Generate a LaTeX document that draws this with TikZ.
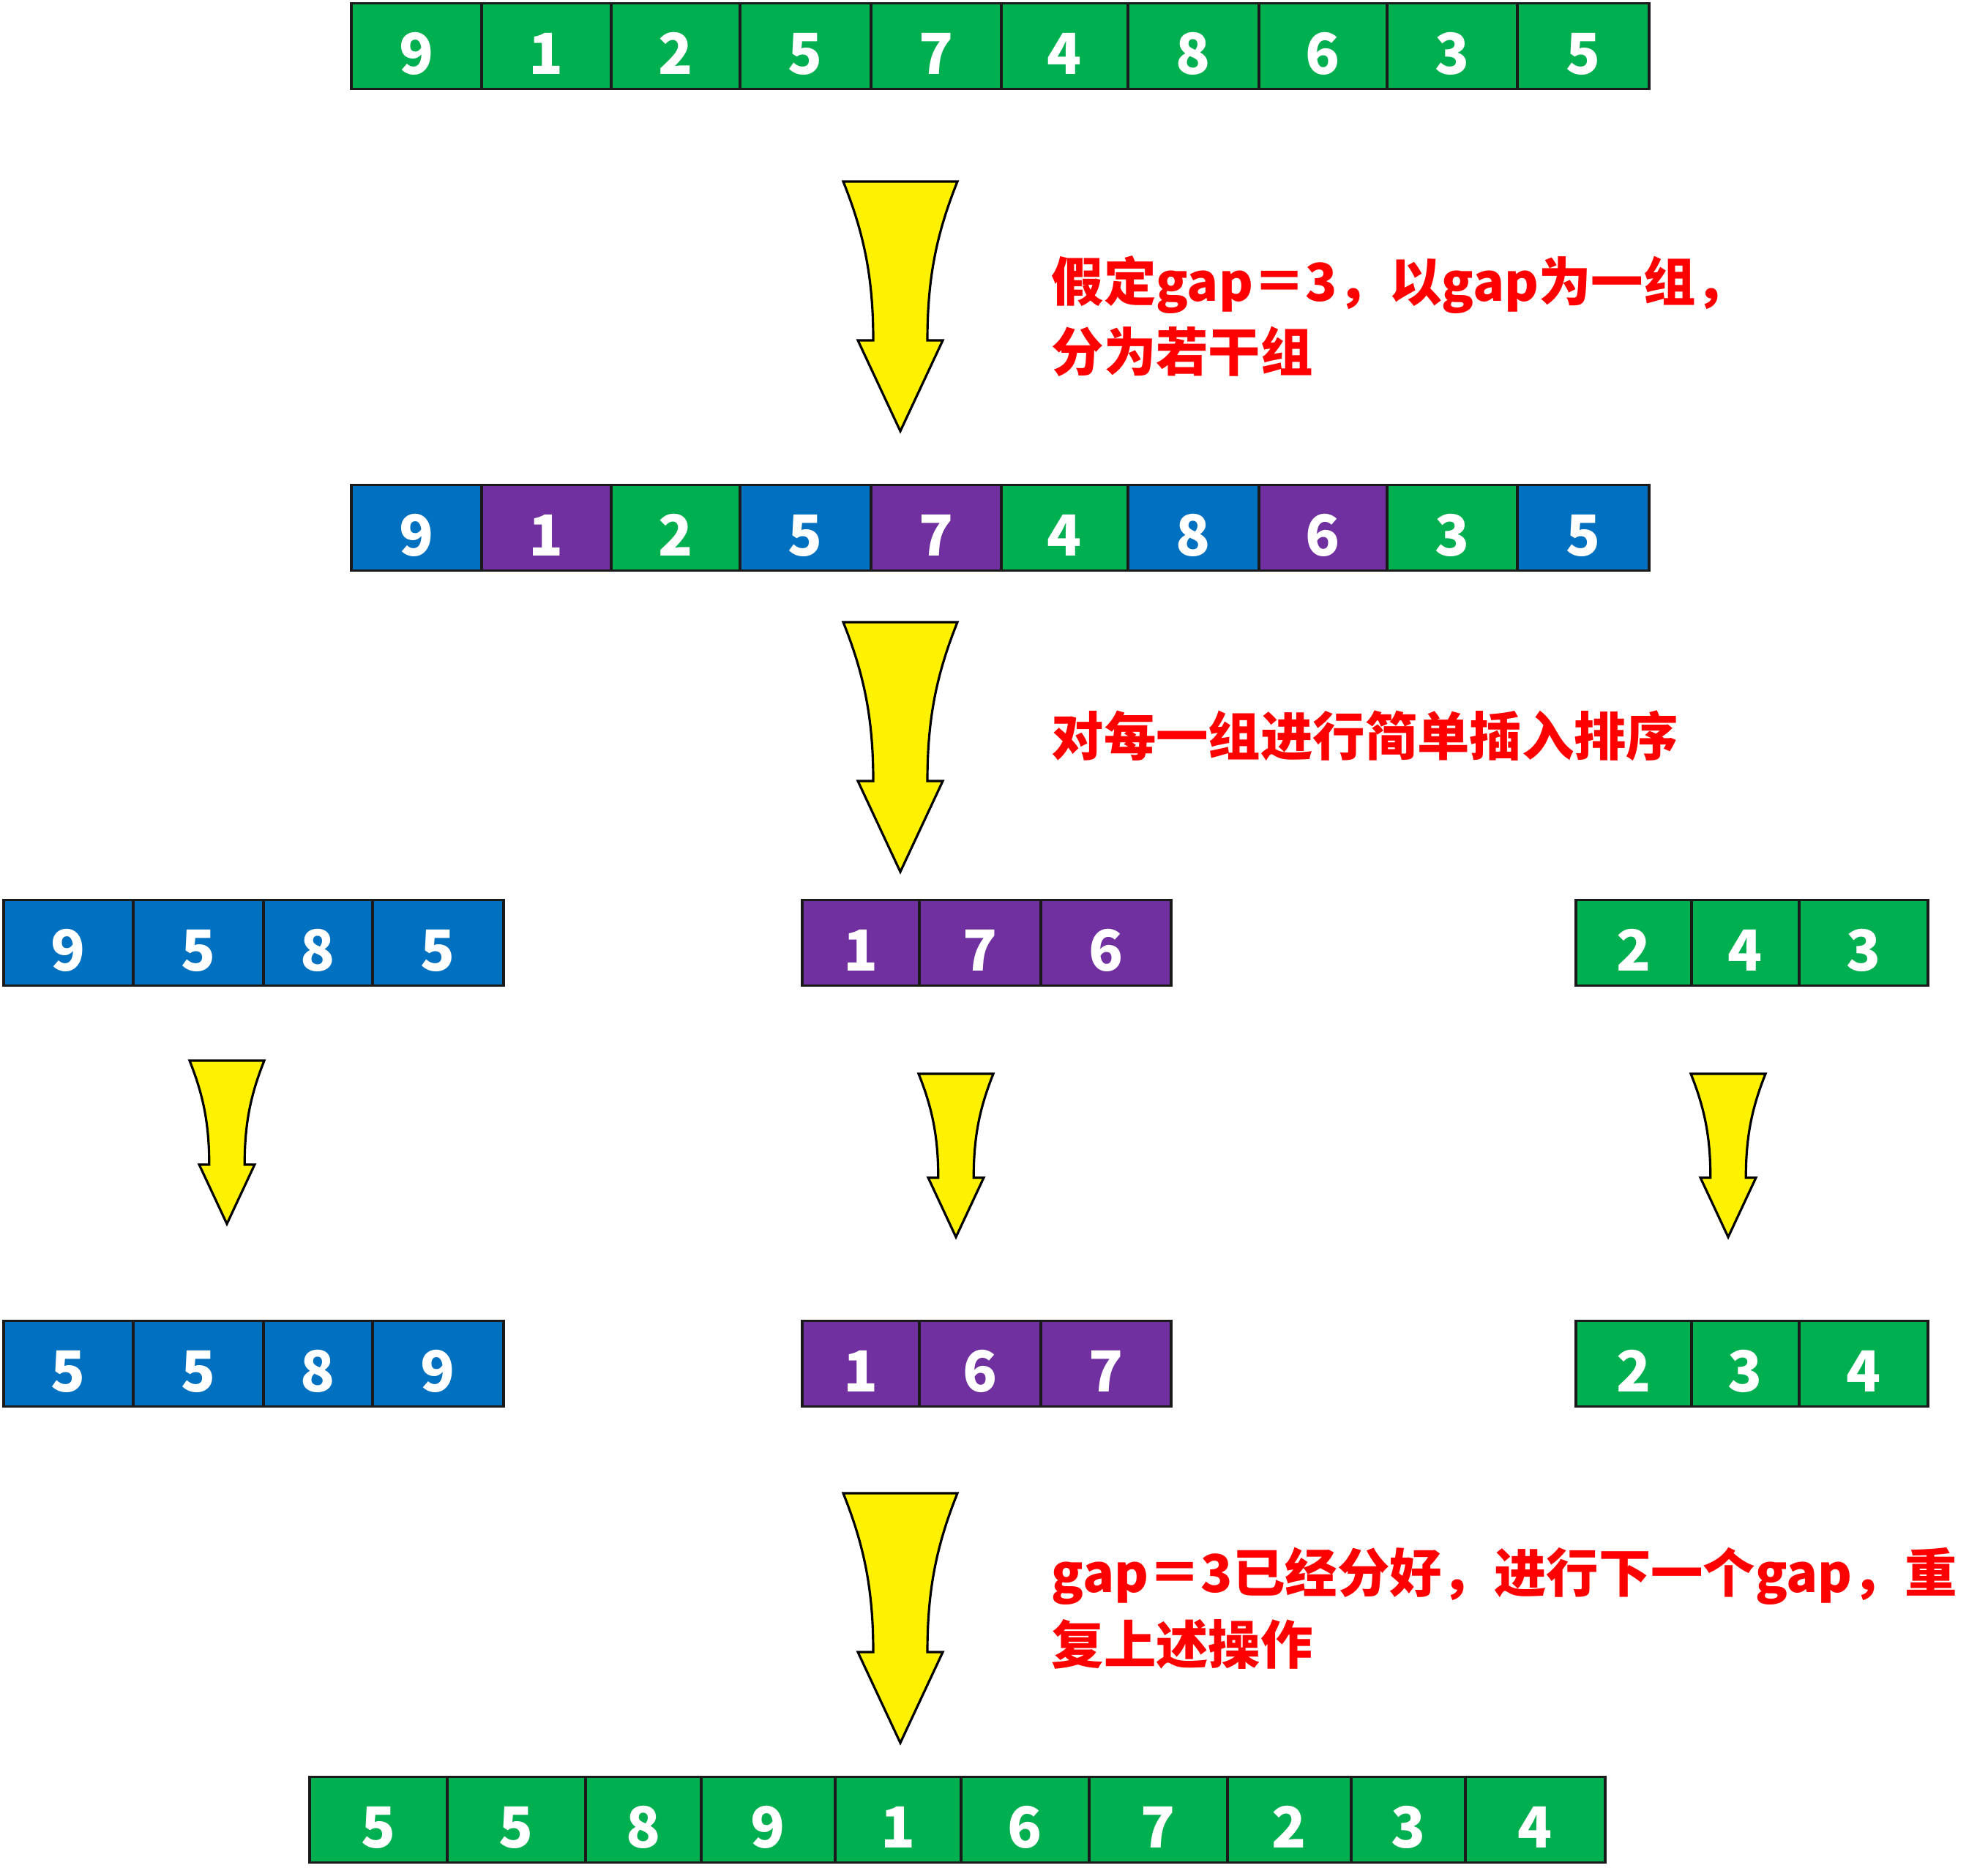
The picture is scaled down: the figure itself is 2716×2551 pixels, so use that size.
\documentclass[tikz,border=0pt]{standalone}
\usepackage{fontspec}
\newfontfamily\cjk{Noto Sans CJK SC}
\usepackage{tikz}
\usetikzlibrary{positioning}

\definecolor{cellgreen}{HTML}{00B050}
\definecolor{cellblue}{HTML}{0070C0}
\definecolor{cellpurple}{HTML}{7030A0}
\definecolor{edgegray}{HTML}{1A1A1A}

\begin{document}
\begin{tikzpicture}[x=0.01cm, y=-0.01cm,
    cell/.style={draw=edgegray, line width=1pt, inner sep=0pt,
      minimum height=1.17cm, text=white,
      font=\cjk\bfseries\fontsize{22pt}{22pt}\selectfont,
      text height=21.8pt, text depth=0pt},
    note/.style={inner sep=0pt, anchor=base west, text=red,
      font=\cjk\bfseries\fontsize{20.3pt}{24pt}\selectfont},
    downarrow/.pic={
      \draw[draw=black, line width=0.9pt, fill=yellow, line join=miter]
        (-78,0) .. controls (-50,70) and (-37,130) .. (-37,217)
        -- (-58,217) -- (0,341) -- (58,217) -- (37,217)
        .. controls (37,130) and (50,70) .. (78,0) -- cycle;
    }]
   \useasboundingbox (0,0) rectangle (2716,2551);

   % first row: all numbers
   \foreach \xa/\xb/\v [count=\i] in {480/658/9, 658/835/1, 835/1011/2,
       1011/1190/5, 1190/1368/7, 1368/1541/4, 1541/1720/8, 1720/1895/6,
       1895/2073/3, 2073/2253/5}
     \node[cell, fill=cellgreen, minimum width={(\xb-\xa)*0.01cm}]
       (a\i) at ({(\xa+\xb)/2}, 63) {\v};

   % second row: coloured by group
   \foreach \xa/\xb/\v/\c [count=\i] in {480/658/9/cellblue,
       658/835/1/cellpurple, 835/1011/2/cellgreen, 1011/1190/5/cellblue,
       1190/1368/7/cellpurple, 1368/1541/4/cellgreen, 1541/1720/8/cellblue,
       1720/1895/6/cellpurple, 1895/2073/3/cellgreen, 2073/2253/5/cellblue}
     \node[cell, fill=\c, minimum width={(\xb-\xa)*0.01cm}]
       (b\i) at ({(\xa+\xb)/2}, 721) {\v};

   % groups before and after sorting
   \foreach \xa/\xb/\v/\w/\c [count=\i] in {5/182/9/5/cellblue,
       182/360/5/5/cellblue, 360/509/8/8/cellblue, 509/688/5/9/cellblue,
       1096/1256/1/1/cellpurple, 1256/1422/7/6/cellpurple,
       1422/1600/6/7/cellpurple, 2153/2311/2/2/cellgreen,
       2311/2458/4/3/cellgreen, 2458/2634/3/4/cellgreen} {
     \node[cell, fill=\c, minimum width={(\xb-\xa)*0.01cm}]
       (c\i) at ({(\xa+\xb)/2}, 1288) {\v};
     \node[cell, fill=\c, minimum width={(\xb-\xa)*0.01cm}]
       (d\i) at ({(\xa+\xb)/2}, 1863) {\w};
   }

   % last row
   \foreach \xa/\xb/\v [count=\i] in {423/611/5, 611/800/5, 800/958/8,
       958/1141/9, 1141/1313/1, 1313/1488/6, 1488/1677/7, 1677/1846/2,
       1846/2002/3, 2002/2193/4}
     \node[cell, fill=cellgreen, minimum width={(\xb-\xa)*0.01cm}]
       (e\i) at ({(\xa+\xb)/2}, 2486) {\v};

   % arrows
   \pic at (1230,248) {downarrow};
   \pic at (1230,850) {downarrow};
   \pic at (1230,2040) {downarrow};
   \pic[scale=0.654] at (310,1449) {downarrow};
   \pic[scale=0.654] at (1306,1467) {downarrow};
   \pic[scale=0.654] at (2361,1467) {downarrow};

   % notes
   \node[note] (n1) at (1436,411) {假定gap＝3，以gap为一组，};
   \node[note] (n2) at (1436,507) {分为若干组};
   \node[note] (n3) at (1436,1032) {对每一组进行简单插入排序};
   \node[note] (n4) at (1436,2175) {gap＝3已经分好，进行下一个gap，重};
   \node[note] (n5) at (1436,2273) {复上述操作};
\end{tikzpicture}
\end{document}
